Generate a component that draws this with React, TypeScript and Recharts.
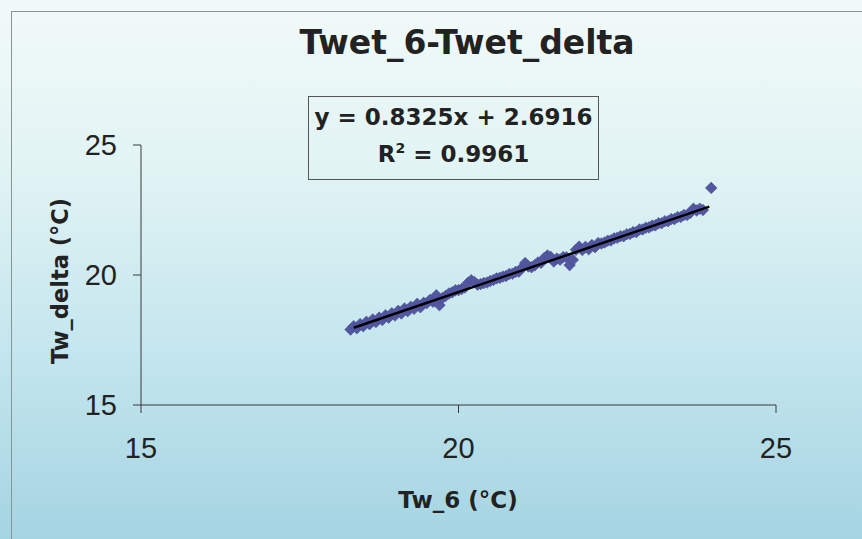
import { ScatterChart, Scatter, XAxis, YAxis } from 'recharts';

// Tw_6 readings (°C)
const tw6 = [
  18.3, 18.35, 18.4, 18.45, 18.5, 18.55, 18.6, 18.65, 18.7, 18.75, 18.8, 18.85, 18.9, 18.95,
  19.0, 19.05, 19.1, 19.15, 19.2, 19.25, 19.3, 19.35, 19.4, 19.45, 19.5, 19.55, 19.6, 19.65,
  19.7, 19.75, 19.8, 19.85, 19.9, 19.95, 20.0, 20.05, 20.1, 20.15, 20.2, 20.25, 20.3, 20.35,
  20.4, 20.45, 20.5, 20.55, 20.6, 20.65, 20.7, 20.75, 20.8, 20.85, 20.9, 20.95, 21.0, 21.05,
  21.1, 21.15, 21.2, 21.25, 21.3, 21.35, 21.4, 21.45, 21.5, 21.55, 21.6, 21.65, 21.7, 21.75,
  21.8, 21.85, 21.9, 21.95, 22.0, 22.05, 22.1, 22.15, 22.2, 22.25, 22.3, 22.35, 22.4, 22.45,
  22.5, 22.55, 22.6, 22.65, 22.7, 22.75, 22.8, 22.85, 22.9, 22.95, 23.0, 23.05, 23.1, 23.15,
  23.2, 23.25, 23.3, 23.35, 23.4, 23.45, 23.5, 23.55, 23.6, 23.65, 23.7, 23.75, 23.8, 23.85,
  23.98,
];

// Tw_delta readings (°C)
const twDelta = [
  17.9, 18.03, 17.95, 18.11, 18.03, 18.2, 18.11, 18.29, 18.19, 18.36, 18.27, 18.45, 18.36, 18.53,
  18.44, 18.62, 18.52, 18.71, 18.61, 18.78, 18.7, 18.89, 18.76, 18.93, 18.92, 19.04, 18.97, 19.22,
  18.84, 19.12, 19.2, 19.29, 19.33, 19.41, 19.42, 19.46, 19.52, 19.7, 19.8, 19.73, 19.63, 19.65,
  19.69, 19.71, 19.77, 19.81, 19.87, 19.89, 19.94, 19.96, 20.04, 20.05, 20.12, 20.13, 20.28, 20.46,
  20.33, 20.3, 20.37, 20.48, 20.47, 20.65, 20.75, 20.7, 20.52, 20.63, 20.59, 20.69, 20.68, 20.38,
  20.58, 20.97, 21.09, 20.96, 21.08, 20.99, 21.15, 21.07, 21.23, 21.21, 21.25, 21.32, 21.33, 21.41,
  21.43, 21.49, 21.49, 21.57, 21.58, 21.65, 21.65, 21.75, 21.75, 21.82, 21.83, 21.9, 21.91, 21.99,
  21.99, 22.07, 22.07, 22.15, 22.15, 22.23, 22.23, 22.31, 22.31, 22.39, 22.55, 22.48, 22.55, 22.5,
  23.35,
];

// linear trendline ends: y = 0.8325x + 2.6916
const trendX = [18.35, 23.95];
const trendY = [17.97, 22.63];

const axisTicks = [15, 20, 25];

const points = tw6.map((x, i) => ({ x, y: twDelta[i] }));
const trend = trendX.map((x, i) => ({ x, y: trendY[i] }));

const boldFont = '"DejaVu Sans", sans-serif';
const tickFont = '"Liberation Sans", Arial, sans-serif';

const Diamond = (props: any) => {
  const { cx, cy } = props;
  const r = 5.8;
  return (
    <polygon
      points={`${cx},${cy - r} ${cx + r},${cy} ${cx},${cy + r} ${cx - r},${cy}`}
      fill="#5257a0"
      stroke="#4a4f93"
      strokeWidth={0.6}
    />
  );
};

const NoDot = () => <g />;

export default function App() {
  return (
    <div
      style={{
        position: 'absolute',
        left: 0,
        top: 0,
        width: 862,
        height: 539,
        overflow: 'hidden',
        background: 'linear-gradient(to bottom, #f1faf8 0%, #e2f4f4 30%, #c4e6ee 65%, #a5d4e2 100%)',
        fontFamily: boldFont,
      }}
    >
      <div
        style={{
          position: 'absolute',
          left: 11,
          top: 11,
          width: 900,
          height: 600,
          borderLeft: '1.5px solid #8a9496',
          borderTop: '1.5px solid #8a9496',
        }}
      />
      <div
        style={{
          position: 'absolute',
          left: 467,
          top: 42,
          transform: 'translate(-50%, -50%)',
          whiteSpace: 'nowrap',
          fontSize: 33,
          fontWeight: 'bold',
          color: '#222',
        }}
      >
        Twet_6-Twet_delta
      </div>
      <div
        style={{
          position: 'absolute',
          left: 308,
          top: 96,
          width: 291,
          height: 84,
          border: '1px solid #555',
          textAlign: 'center',
          fontSize: 23,
          fontWeight: 'bold',
          color: '#222',
          lineHeight: '37px',
          paddingTop: 2,
          boxSizing: 'border-box',
        }}
      >
        <div>y = 0.8325x + 2.6916</div>
        <div>
          R<sup style={{ fontSize: 14, verticalAlign: 9, lineHeight: 0 }}>2</sup> = 0.9961
        </div>
      </div>
      <div
        style={{
          position: 'absolute',
          left: 60,
          top: 281,
          transform: 'translate(-50%, -50%) rotate(-90deg)',
          whiteSpace: 'nowrap',
          fontSize: 22.5,
          fontWeight: 'bold',
          color: '#222',
        }}
      >
        Tw_delta (°C)
      </div>
      <div
        style={{
          position: 'absolute',
          left: 458,
          top: 500,
          transform: 'translate(-50%, -50%)',
          whiteSpace: 'nowrap',
          fontSize: 23,
          fontWeight: 'bold',
          color: '#222',
        }}
      >
        Tw_6 (°C)
      </div>
      <div style={{ position: 'absolute', left: 0, top: 0 }}>
        <ScatterChart width={862} height={539} margin={{ top: 145, right: 86, bottom: 0, left: 0 }}>
          <XAxis
            type="number"
            dataKey="x"
            domain={[15, 25]}
            ticks={axisTicks}
            height={134}
            tickSize={8}
            tickMargin={24}
            stroke="#3a3a3a"
            tick={{ fontSize: 29, fill: '#222', fontFamily: tickFont }}
          />
          <YAxis
            type="number"
            dataKey="y"
            domain={[15, 25]}
            ticks={axisTicks}
            width={141}
            tickSize={8}
            tickMargin={16}
            stroke="#3a3a3a"
            tick={{ fontSize: 29, fill: '#222', fontFamily: tickFont }}
          />
          <Scatter data={points} shape={Diamond} isAnimationActive={false} />
          <Scatter
            data={trend}
            shape={NoDot}
            line={{ stroke: '#000', strokeWidth: 2.5 }}
            isAnimationActive={false}
          />
        </ScatterChart>
      </div>
    </div>
  );
}
